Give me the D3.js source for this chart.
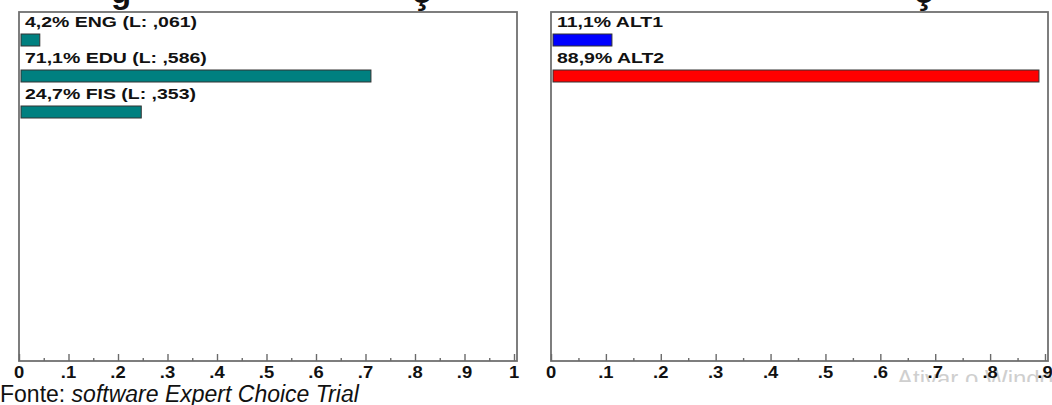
<!DOCTYPE html>
<html>
<head>
<meta charset="utf-8">
<script src="https://cdn.jsdelivr.net/npm/d3@7"></script>
<style>
  html, body { margin: 0; padding: 0; background: #fff; }
  svg { display: block; font-family: Arial, "Liberation Sans", sans-serif; }
</style>
</head>
<body>
<svg id="chart" width="1052" height="405"></svg>
<script>
// Priorities of the criteria (global %) and their local weights
const criteria = ["ENG", "EDU", "FIS"];
const criteriaPct = [4.2, 71.1, 24.7];
const criteriaLocal = [0.061, 0.586, 0.353];

// Priorities of the alternatives (%)
const alternatives = ["ALT1", "ALT2"];
const alternativesPct = [11.1, 88.9];
const alternativeColors = ["#0000ff", "#ff0000"];

// Axis ticks for each panel
const leftTicks = [0, 0.1, 0.2, 0.3, 0.4, 0.5, 0.6, 0.7, 0.8, 0.9, 1];
const rightTicks = [0, 0.1, 0.2, 0.3, 0.4, 0.5, 0.6, 0.7, 0.8, 0.9];

const svg = d3.select("#chart");

const pct = d3.format(".1f");
const dec = v => d3.format(".3f")(v).replace(/^0/, "").replace(".", ",");
const tickFmt = v => (v === 0 ? "0" : v === 1 ? "1" : d3.format(".1f")(v).replace(/^0/, ""));

// Title line above the panels is cut by the top edge; only descenders remain
const titleGlyphs = svg.append("g")
  .attr("font-weight", "bold").attr("fill", "#111");
titleGlyphs.append("text").attr("x", 111).attr("y", 3).attr("font-size", 33).text("g");
titleGlyphs.append("text").attr("x", 411).attr("y", 3).attr("font-size", 38).text("ç");
titleGlyphs.append("text").attr("x", 913).attr("y", 3).attr("font-size", 38).text("ç");

const panelTop = 12, panelBottom = 361;
// row positions: label baseline and bar top for each row
const rowLabel = d3.scaleLinear().domain([0, 1]).range([27, 63]);
const rowBar = d3.scaleLinear().domain([0, 1]).range([34, 70]);
const barH = 12;

function panel(boxLeft, boxRight, x0, x1, domainMax, ticks, rows) {
  const x = d3.scaleLinear().domain([0, domainMax]).range([x0, x1]);
  const g = svg.append("g");

  g.append("rect")
    .attr("x", boxLeft).attr("y", panelTop)
    .attr("width", boxRight - boxLeft).attr("height", panelBottom - panelTop)
    .attr("fill", "none").attr("stroke", "#707070").attr("stroke-width", 1.8);

  // minor ticks every 0.05, major every 0.1, pointing into the panel
  const minor = d3.range(0.05, domainMax, 0.1);
  const axis = d3.axisTop(x).tickValues(ticks).tickFormat("").tickSize(7).tickSizeOuter(0);
  const axisG = g.append("g").attr("transform", `translate(0,${panelBottom})`).call(axis);
  axisG.select(".domain").remove();
  axisG.selectAll(".tick line").attr("stroke", "#6a6a6a").attr("stroke-width", 1.4);
  const minorAxis = d3.axisTop(x).tickValues(minor).tickFormat("").tickSize(3).tickSizeOuter(0);
  const minorG = g.append("g").attr("transform", `translate(0,${panelBottom})`).call(minorAxis);
  minorG.select(".domain").remove();
  minorG.selectAll(".tick line").attr("stroke", "#6a6a6a").attr("stroke-width", 1.4);

  g.selectAll("text.tick-label").data(ticks).join("text")
    .attr("class", "tick-label")
    .attr("transform", d => `translate(${x(d)},${panelBottom + 17}) scale(1.15,1)`)
    .attr("text-anchor", "middle")
    .attr("font-size", 16).attr("font-weight", "bold").attr("fill", "#111")
    .text(tickFmt);

  g.selectAll("text.row-label").data(rows).join("text")
    .attr("class", "row-label")
    .attr("transform", (d, i) => `translate(${boxLeft + 6},${rowLabel(i)}) scale(1.3,1)`)
    .attr("font-size", 15).attr("font-weight", "bold").attr("fill", "#111")
    .text(d => d.label);

  g.selectAll("rect.bar").data(rows).join("rect")
    .attr("class", "bar")
    .attr("x", x(0) + 2).attr("y", (d, i) => rowBar(i))
    .attr("width", d => x(d.value) - x(0) - 2).attr("height", barH)
    .attr("fill", d => d.color).attr("stroke", "#333").attr("stroke-width", 1);

  return g;
}

const leftRows = criteria.map((c, i) => ({
  label: `${pct(criteriaPct[i]).replace(".", ",")}% ${c} (L: ${dec(criteriaLocal[i])})`,
  value: criteriaPct[i] / 100,
  color: "#008080"
}));
const rightRows = alternatives.map((a, i) => ({
  label: `${pct(alternativesPct[i]).replace(".", ",")}% ${a}`,
  value: alternativesPct[i] / 100,
  color: alternativeColors[i]
}));

panel(19, 517, 19, 514, 1, leftTicks, leftRows);

// Windows activation watermark, cut off below by the page layer
svg.append("clipPath").attr("id", "wm-clip")
  .append("rect").attr("x", 880).attr("y", 360).attr("width", 180).attr("height", 22);
svg.append("text")
  .attr("x", 897).attr("y", 387)
  .attr("clip-path", "url(#wm-clip)")
  .attr("font-size", 24).attr("fill", "#cfcfcf")
  .text("Ativar o Windows");

panel(551, 1048, 551, 1045, 0.9, rightTicks, rightRows);

// Source note
const src = svg.append("text").attr("x", 0).attr("y", 402)
  .attr("font-size", 23).attr("fill", "#111");
src.append("tspan").text("Fonte: ");
src.append("tspan").attr("font-style", "italic").text("software Expert Choice Trial");
</script>
</body>
</html>
